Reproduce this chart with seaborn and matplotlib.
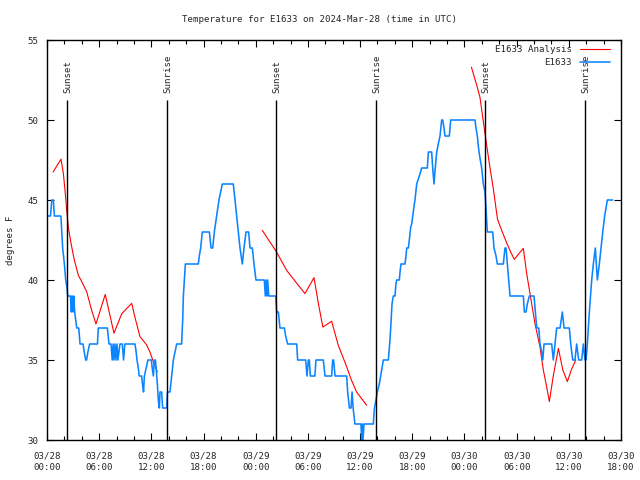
import numpy as np
import pandas as pd
import seaborn as sns
from matplotlib import pyplot as plt

sns.set_style('ticks')
plt.rcParams['font.family'] = ['DejaVu Sans Mono', 'DejaVu Sans']

# sati od 03/28 00:00 UTC
obs_hours = [0.0, 0.4, 0.55, 0.73, 0.85, 1.6, 1.7, 1.8, 1.9, 2.0, 2.15, 2.3, 2.38, 2.7, 2.8, 2.88, 3.0, 3.08,
             3.18, 3.3, 3.42, 3.65, 3.8, 4.15, 4.28, 4.45, 4.55, 4.7, 4.9, 5.8, 5.9, 6.94, 7.13, 7.36, 7.5, 7.6,
             7.7, 7.82, 7.93, 8.05, 8.15, 8.39, 8.66, 8.8, 8.95, 10.12, 10.25, 10.35, 10.5, 10.6, 10.88, 10.98,
             11.1, 11.2, 11.4, 11.6, 12.0, 12.1, 12.23, 12.34, 12.46, 12.55, 12.69, 12.8, 12.92, 12.99, 13.18,
             13.3, 13.76, 13.85, 14.14, 14.33, 14.53, 14.72, 14.91, 15.48, 15.6, 15.68, 15.79, 15.91, 17.4,
             17.51, 17.67, 17.86, 18.67, 18.86, 19.05, 19.24, 19.5, 19.77, 19.97, 20.16, 21.42, 21.62, 21.81,
             22.0, 22.19, 22.46, 22.65, 22.88, 23.19, 23.34, 23.61, 23.8, 24.03, 24.99, 25.1, 25.2, 25.3, 25.37,
             25.5, 26.3, 26.41, 26.6, 26.79, 27.29, 27.44, 27.67, 28.71, 28.82, 29.74, 29.9, 30.05, 30.16,
             30.28, 30.8, 30.93, 31.77, 31.97, 32.73, 32.85, 32.95, 33.12, 34.46, 34.57, 34.77, 34.96, 35.08,
             35.2, 35.41, 36.1, 36.18, 36.26, 36.33, 36.45, 37.52, 37.65, 37.83, 37.98, 38.21, 38.37, 38.52,
             38.67, 39.25, 39.4, 39.52, 39.67, 39.82, 40.01, 40.13, 40.21, 40.51, 40.59, 40.7, 41.16, 41.28,
             41.36, 41.55, 41.66, 41.82, 41.93, 42.05, 42.2, 42.31, 42.51, 42.81, 43.08, 43.73, 43.85, 44.23,
             44.35, 44.5, 44.61, 44.72, 44.81, 44.99, 45.19, 45.38, 45.5, 45.65, 45.76, 46.26, 46.42, 49.21,
             49.33, 49.48, 49.63, 49.79, 49.98, 50.17, 50.36, 50.48, 50.63, 51.25, 51.4, 51.63, 51.78, 52.47,
             52.66, 52.78, 52.93, 53.09, 53.24, 54.77, 54.89, 55.08, 55.23, 55.46, 56.0, 56.15, 56.31, 56.54,
             56.69, 56.88, 57.0, 57.15, 58.03, 58.22, 58.41, 58.6, 58.99, 59.26, 59.45, 60.06, 60.22, 60.45,
             60.71, 60.9, 61.14, 61.48, 61.67, 61.86, 61.98, 62.13, 62.36, 62.63, 62.82, 63.05, 63.28, 63.51,
             63.7, 63.9, 64.12, 64.43, 65.04]
obs_temps = [44, 44, 45, 45, 44, 44, 43, 42, 41.5, 41, 40, 39.5, 39, 39, 38, 39, 38, 39,
             38, 37.5, 37, 37, 36, 36, 35.5, 35, 35, 35.5, 36, 36, 37, 37, 36, 36, 35, 36,
             35, 36, 35, 36, 35, 36, 36, 35, 36, 36, 35.5, 35, 34.5, 34, 34, 33.5,
             33, 34, 34.5, 35, 35, 34.5, 34, 35, 35, 34.5, 33.5, 32.5, 32, 33, 33,
             32, 32, 33, 33, 34, 35, 35.5, 36, 36, 37.5, 39, 40, 41, 41,
             41.5, 42, 43, 43, 42, 42, 43, 44, 45, 45.5, 46, 46, 45, 44,
             43, 42, 41, 42, 43, 43, 42, 42, 41, 40, 40, 39, 40, 39, 40,
             39, 39, 38, 38, 37, 37, 36.5, 36, 36, 35, 35, 34, 35, 35,
             34, 34, 35, 35, 34, 34, 35, 35, 34, 34, 33, 32, 32, 33,
             32, 31, 31, 30, 31, 30, 31, 31, 32, 32.5, 33, 33.5, 34, 34.5,
             35, 35, 36, 37, 38.5, 39, 39, 39.8, 40, 40, 40.5, 41, 41, 41.5,
             42, 42, 42.5, 43.3, 43.5, 44, 44.6, 45, 46, 46.5, 47, 47, 48, 48,
             47, 46, 46.8, 47.5, 48, 48.5, 49, 50, 50, 49.5, 49, 49, 50, 50,
             49.5, 49, 48.2, 47.6, 47, 46, 45.5, 44.5, 43, 43, 42, 41.5, 41, 41,
             42, 42, 41, 40, 39, 39, 38, 38, 38.5, 39, 39, 38, 37, 37,
             36, 35.5, 35, 36, 36, 35, 36, 37, 37, 38, 37, 37, 36, 35,
             35, 36, 35, 35, 36, 35, 35, 36, 38, 40, 41, 42, 40, 41,
             42, 43, 44, 45, 45]

anl_hours = [0.7, 1.61, 1.88, 2.07, 2.26, 2.45, 2.76, 3.14, 3.6, 3.99, 4.56, 5.14, 5.63, 6.7, 7.7, 8.6,
             9.74, 10.1, 10.69, 11.46, 11.84, 12.22, 12.68,
             24.76, 26.37, 27.56, 28.71, 29.66, 30.7, 31.2, 31.72, 32.73, 33.5, 34.3, 35.0, 35.6, 36.76,
             48.8, 49.4, 49.79, 50.17, 50.56, 50.94, 51.32, 51.8, 52.28, 52.85, 53.3, 53.73, 54.77, 55.15,
             55.53, 56.1, 56.68, 57.06, 57.45, 57.76, 58.2, 58.8, 59.3, 59.83, 60.3, 60.8]
anl_temps = [46.75, 47.55, 46.67, 45.6, 44.4, 43.3, 42.3, 41.25, 40.3, 39.9, 39.27, 38.1, 37.25, 39.1, 36.67, 37.9,
             38.54, 37.7, 36.46, 35.94, 35.5, 34.9, 34.27,
             43.1, 41.77, 40.6, 39.8, 39.15, 40.15, 38.54, 37.06, 37.42, 35.9, 34.8, 33.75, 33.0, 32.17,
             53.3, 52.2, 51.4, 49.9, 48.4, 47.0, 45.7, 43.8, 43.1, 42.33, 41.77, 41.29, 41.98, 40.42,
             39.17, 37.3, 35.83, 34.4, 33.33, 32.4, 33.96, 35.73, 34.4, 33.65, 34.4, 35.0]
anl_seg = [1] * 23 + [2] * 14 + [3] * 26

sunset_hours = [2.33, 26.33, 50.36]
sunrise_hours = [13.83, 37.83, 61.9]

tick_hours = list(range(0, 67, 6))
tick_labels = ['03/28\n00:00', '03/28\n06:00', '03/28\n12:00', '03/28\n18:00',
               '03/29\n00:00', '03/29\n06:00', '03/29\n12:00', '03/29\n18:00',
               '03/30\n00:00', '03/30\n06:00', '03/30\n12:00', '03/30\n18:00']

obs_df = pd.DataFrame({'hour': obs_hours, 'temp': obs_temps})
anl_df = pd.DataFrame({'hour': anl_hours, 'temp': anl_temps, 'seg': anl_seg})

fs = 6.6
fig, ax = plt.subplots(figsize=(6.4, 4.8), dpi=100)
fig.subplots_adjust(left=47/640, right=621/640, bottom=40/480, top=440/480)

sns.lineplot(data=anl_df, x='hour', y='temp', units='seg', estimator=None, sort=False,
             color='#ff0000', lw=0.8, label='E1633 Analysis', ax=ax)
sns.lineplot(data=obs_df, x='hour', y='temp', estimator=None, sort=False,
             color='#0b84ff', lw=1.15, label='E1633', ax=ax)

# linije za izlazak i zalazak sunca
for h in sunset_hours:
    ax.vlines(h, 30, 51.25, color='black', lw=1.0)
    ax.text(h + 0.1, 51.7, 'Sunset', rotation=90, ha='center', va='bottom', fontsize=fs)
for h in sunrise_hours:
    ax.vlines(h, 30, 51.25, color='black', lw=1.0)
    ax.text(h + 0.1, 51.7, 'Sunrise', rotation=90, ha='center', va='bottom', fontsize=fs)

ax.set_xlim(0, 66)
ax.set_ylim(30, 55)
ax.set_xticks(tick_hours)
ax.set_xticklabels(tick_labels, fontsize=fs, linespacing=1.4)
ax.set_xticks(range(0, 67, 2), minor=True)
ax.set_yticks(range(30, 56, 5))
ax.tick_params(axis='y', labelsize=fs)
ax.tick_params(which='both', direction='in', top=True, right=True, color='black', width=0.8)
ax.tick_params(which='major', length=5, pad=6)
ax.tick_params(axis='x', which='major', pad=8)
ax.tick_params(which='minor', length=3)
for s in ax.spines.values():
    s.set_color('black')
    s.set_linewidth(1.0)

ax.set_xlabel('')
ax.set_ylabel('degrees F', fontsize=fs)
ax.yaxis.set_label_coords(-0.056, 0.5)

handles, labels = ax.get_legend_handles_labels()
uniq = dict(zip(labels, handles))
ax.legend(list(uniq.values()), list(uniq.keys()), loc='upper right', frameon=False, markerfirst=False,
          fontsize=fs, handlelength=3.3, handletextpad=0.9, borderpad=0, borderaxespad=0,
          labelspacing=0.45, bbox_to_anchor=(0.981, 0.988))

fig.text(0.5, 1 - 19/480, 'Temperature for E1633 on 2024-Mar-28 (time in UTC)',
         ha='center', va='center', fontsize=fs)

plt.savefig('out.png', dpi=100)
